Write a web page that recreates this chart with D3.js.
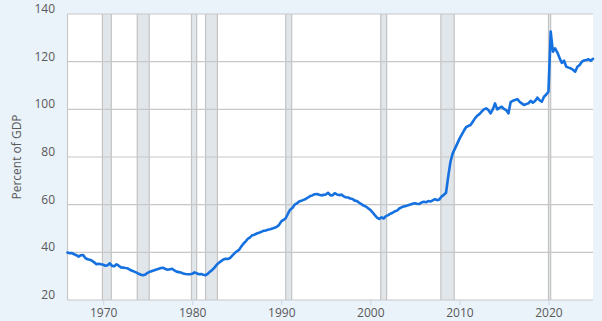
<!DOCTYPE html>
<html>
<head>
<meta charset="utf-8">
<script src="https://cdn.jsdelivr.net/npm/d3@7"></script>
<style>
  html, body { margin: 0; padding: 0; background: #eaf2fa; }
  svg { display: block; }
  text { font-family: "Open Sans", sans-serif; fill: #595959; }
</style>
</head>
<body>
<svg id="chart" width="602" height="321"></svg>
<script>
// ---- Data: Federal debt, percent of GDP, quarterly from 1966 Q1 ----
const startYear = 1966;
const debt1960s = [39.9, 39.6, 39.7, 39.2, 38.8, 38.2, 38.8, 38.9, 37.6, 37.1, 36.9, 36.5, 35.8, 35.0, 35.2, 35.0];
const debt1970s = [34.8, 34.4, 34.6, 35.4, 34.3, 34.2, 35.0, 34.4, 33.7, 33.6, 33.4, 33.3, 32.7, 32.3, 31.9, 31.5,
                   31.0, 30.6, 30.4, 30.7, 31.4, 31.9, 32.2, 32.5, 32.8, 33.1, 33.4, 33.5, 33.0, 32.7, 32.9, 33.1,
                   32.4, 31.9, 31.7, 31.5, 31.1, 30.9, 30.8, 30.8];
const debt1980s = [31.0, 31.6, 31.2, 30.8, 30.9, 30.6, 30.4, 31.0, 31.9, 32.6, 33.6, 34.8, 35.6, 36.3, 37.0, 37.3,
                   37.2, 37.6, 38.6, 39.6, 40.4, 41.0, 42.4, 43.6, 44.6, 45.7, 46.3, 47.2, 47.4, 47.9, 48.2, 48.6,
                   49.0, 49.2, 49.5, 49.7, 50.0, 50.3, 50.7, 51.5];
const debt1990s = [53.0, 53.6, 54.3, 56.2, 57.9, 58.6, 60.0, 60.5, 61.3, 61.6, 62.0, 62.4, 63.0, 63.6, 63.9, 64.4,
                   64.5, 64.2, 63.9, 64.1, 64.3, 65.0, 64.0, 63.9, 64.8, 64.3, 64.0, 64.2, 63.5, 63.1, 63.0, 62.6,
                   62.4, 61.7, 61.5, 60.8, 60.2, 59.6, 59.2, 58.5];
const debt2000s = [57.8, 56.8, 55.6, 54.6, 54.0, 54.7, 54.2, 55.2, 55.6, 56.2, 56.6, 57.2, 57.5, 58.4, 58.9, 59.2,
                   59.4, 59.8, 60.1, 60.4, 60.6, 60.4, 60.3, 60.9, 61.2, 61.0, 61.5, 61.3, 61.8, 62.3, 61.9, 62.2,
                   63.4, 64.1, 65.0, 72.0, 78.0, 81.5, 83.5, 85.5];
const debt2010s = [87.6, 89.3, 91.0, 92.5, 93.0, 93.4, 94.8, 96.2, 97.3, 98.0, 99.0, 100.0, 100.4, 99.7, 98.3, 100.0,
                   102.5, 100.0, 100.6, 101.1, 100.2, 99.7, 98.3, 103.0, 103.6, 103.9, 104.3, 103.2, 102.5, 101.8, 102.2, 102.5,
                   103.6, 102.8, 103.5, 104.9, 103.8, 103.2, 105.3, 106.2];
const debt2020s = [107.4, 132.6, 124.2, 125.6, 123.8, 121.5, 119.5, 120.4, 117.9, 117.5, 117.2, 116.6,
                   115.8, 117.9, 118.6, 120.0, 120.5, 120.7, 121.0, 120.4, 121.2];

// Recession periods (decimal years)
const recessionStarts = [1969.92, 1973.83, 1979.92, 1981.5, 1990.5, 2001.17, 2007.92, 2020.0];
const recessionEnds   = [1970.92, 1975.17, 1980.5, 1982.83, 1991.17, 2001.83, 2009.42, 2020.25];

const yTicks = [20, 40, 60, 80, 100, 120, 140];
const xTicks = [1970, 1980, 1990, 2000, 2010, 2020];
const yTitle = "Percent of GDP";

// ---- Build series ----
const values = [].concat(debt1960s, debt1970s, debt1980s, debt1990s, debt2000s, debt2010s, debt2020s);
const series = values.map((v, i) => ({ t: startYear + i / 4, v }));

// ---- Layout ----
const svg = d3.select("#chart");
const margin = { left: 67.5, right: 9, top: 14, bottom: 21 };
const W = 602, H = 321;

const x = d3.scaleLinear()
  .domain([startYear, startYear + (values.length - 1) / 4])
  .range([margin.left, W - margin.right]);
const y = d3.scaleLinear()
  .domain([20, 140])
  .range([H - margin.bottom, margin.top]);

// Plot background
svg.append("rect")
  .attr("x", margin.left).attr("y", margin.top)
  .attr("width", W - margin.right - margin.left)
  .attr("height", H - margin.bottom - margin.top)
  .attr("fill", "#ffffff");

// Recession bands
const rec = recessionStarts.map((s, i) => ({ s, e: recessionEnds[i] }));
const bands = svg.append("g");
bands.selectAll("rect").data(rec).join("rect")
  .attr("x", d => x(d.s))
  .attr("y", margin.top)
  .attr("width", d => Math.max(1, x(d.e) - x(d.s)))
  .attr("height", H - margin.bottom - margin.top)
  .attr("fill", "#e1e6eb");
bands.selectAll("line.s").data(rec).join("line").attr("class", "s")
  .attr("x1", d => x(d.s)).attr("x2", d => x(d.s))
  .attr("y1", margin.top).attr("y2", H - margin.bottom)
  .attr("stroke", "#c3c3c3").attr("stroke-width", 1.2);
bands.selectAll("line.e").data(rec).join("line").attr("class", "e")
  .attr("x1", d => x(d.e)).attr("x2", d => x(d.e))
  .attr("y1", margin.top).attr("y2", H - margin.bottom)
  .attr("stroke", "#c3c3c3").attr("stroke-width", 1.2);

// Horizontal gridlines
svg.append("g").selectAll("line").data(yTicks).join("line")
  .attr("x1", margin.left).attr("x2", W - margin.right)
  .attr("y1", d => y(d)).attr("y2", d => y(d))
  .attr("stroke", "#c8c8c8").attr("stroke-width", 1.2);

// Left axis line
svg.append("line")
  .attr("x1", margin.left).attr("x2", margin.left)
  .attr("y1", margin.top).attr("y2", H - margin.bottom)
  .attr("stroke", "#c8c8c8").attr("stroke-width", 1.2);

// Y axis labels
svg.append("g").selectAll("text").data(yTicks).join("text")
  .attr("x", 55).attr("y", d => y(d) - 1)
  .attr("text-anchor", "end")
  .attr("font-size", "12px")
  .text(d => d);

// X axis ticks and labels
const xAxis = d3.axisBottom(x).tickValues(xTicks).tickFormat(d3.format("d")).tickSize(5).tickPadding(3);
const gx = svg.append("g").attr("transform", `translate(0,${H - margin.bottom})`).call(xAxis);
gx.select(".domain").remove();
gx.selectAll(".tick line").attr("stroke", "#ccd6e0");
gx.selectAll(".tick text").attr("font-size", "12px").attr("fill", "#595959")
  .attr("font-family", "Open Sans, sans-serif");

// Y title
svg.append("text")
  .attr("transform", `translate(21,${(margin.top + H - margin.bottom) / 2}) rotate(-90)`)
  .attr("text-anchor", "middle")
  .attr("font-size", "12px")
  .text(yTitle);

// Data line
const line = d3.line().x(d => x(d.t)).y(d => y(d.v)).curve(d3.curveLinear);
svg.append("path")
  .datum(series)
  .attr("d", line)
  .attr("fill", "none")
  .attr("stroke", "#1570e0")
  .attr("stroke-width", 2.6)
  .attr("stroke-linejoin", "round")
  .attr("stroke-linecap", "round");
</script>
</body>
</html>
